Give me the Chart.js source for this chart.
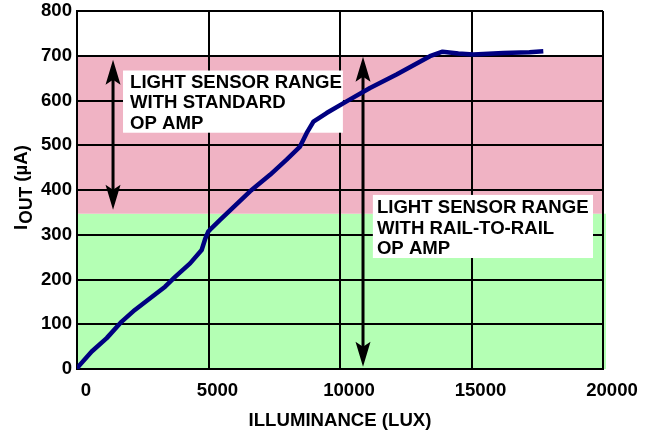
<!DOCTYPE html>
<html>
<head>
<meta charset="utf-8">
<script src="https://cdn.jsdelivr.net/npm/chart.js@4.4.1/dist/chart.umd.min.js"></script>
<style>
  html, body { margin: 0; padding: 0; background: #fff; }
  #wrap { width: 655px; height: 434px; position: relative; }
</style>
</head>
<body>
<div id="wrap"><canvas id="plot"></canvas></div>
<script>
// Curve (lux -> µA)
const illuminance = [0, 60, 560, 1130, 1700, 2200, 2780, 3350, 3730, 4300, 4740, 4870, 4990,
  5120, 5440, 6580, 7340, 7970, 8480, 8730, 8990, 9490, 10250, 11140, 12150, 13420, 13900,
  14500, 15070, 16210, 17200, 17730];
const ioutUA = [0, 6, 39, 69, 106, 132, 158, 184, 206, 236, 266, 290, 307,
  315, 333, 397, 434, 468, 497, 527, 553, 572, 598, 628, 658, 699, 709,
  705, 703, 706, 708, 710];

const xTicks = [0, 5000, 10000, 15000, 20000];
const yTicks = [0, 100, 200, 300, 400, 500, 600, 700, 800];

// shaded ranges (µA)
const railRange = [0, 347];
const standardRange = [347, 700];

const FONT = '"Liberation Sans", Arial, sans-serif';
const FSIZE = 18.6;
const PINK = '#F0B3C4';
const GREEN = '#B4FFB4';

// annotation boxes in data units
const notes = [
  {x0: 1750, x1: 10110, y0: 667, y1: 528, dx: 7, dy: 17,
   lines: ['LIGHT SENSOR RANGE', 'WITH STANDARD', 'OP AMP']},
  {x0: 11250, x1: 19620, y0: 389, y1: 248, dx: 4, dy: 18,
   lines: ['LIGHT SENSOR RANGE', 'WITH RAIL-TO-RAIL', 'OP AMP']}
];
const arrows = [
  {x: 1370, top: 691, bottom: 356},
  {x: 10875, top: 698, bottom: 5}
];

const ctx = document.getElementById('plot').getContext('2d');

const bands = {
    id: 'bands',
    beforeDraw: chart => {
        const {ctx, chartArea: a, scales: {y}} = chart;
        ctx.save();
        ctx.fillStyle = GREEN;
        ctx.fillRect(a.left, y.getPixelForValue(railRange[1]), a.right - a.left + 3,
            y.getPixelForValue(railRange[0]) - y.getPixelForValue(railRange[1]));
        ctx.fillStyle = PINK;
        ctx.fillRect(a.left, y.getPixelForValue(standardRange[1]), a.right - a.left,
            y.getPixelForValue(standardRange[0]) - y.getPixelForValue(standardRange[1]));
        ctx.restore();
    }
};

function arrowHead(ctx, x, tipY, dir) {
    // dir = 1 points up, -1 points down
    const len = 25, half = 7.5;
    ctx.beginPath();
    ctx.moveTo(x, tipY);
    ctx.lineTo(x - half, tipY + dir * len);
    ctx.lineTo(x, tipY + dir * (len - 5));
    ctx.lineTo(x + half, tipY + dir * len);
    ctx.closePath();
    ctx.fill();
}

const annotations = {
    id: 'annotations',
    beforeDatasetsDraw: chart => {
        const {ctx, scales: {x, y}} = chart;
        ctx.save();
        notes.forEach(n => {
            const left = x.getPixelForValue(n.x0), top = y.getPixelForValue(n.y0);
            const right = x.getPixelForValue(n.x1), bottom = y.getPixelForValue(n.y1);
            ctx.fillStyle = '#fff';
            ctx.fillRect(left, top, right - left, bottom - top);
            ctx.fillStyle = '#000';
            ctx.font = `bold ${FSIZE}px ${FONT}`;
            ctx.textBaseline = 'alphabetic';
            ctx.textAlign = 'left';
            n.lines.forEach((t, i) => ctx.fillText(t, left + n.dx, top + n.dy + i * 20.7));
        });
        ctx.strokeStyle = '#000';
        ctx.fillStyle = '#000';
        ctx.lineWidth = 3;
        arrows.forEach(a => {
            const px = x.getPixelForValue(a.x);
            const t = y.getPixelForValue(a.top), b = y.getPixelForValue(a.bottom);
            ctx.beginPath();
            ctx.moveTo(px, t + 10);
            ctx.lineTo(px, b - 10);
            ctx.stroke();
            arrowHead(ctx, px, t, 1);
            arrowHead(ctx, px, b, -1);
        });
        ctx.restore();
    }
};

// y title with subscript, drawn by hand
const yTitle = {
    id: 'yTitle',
    afterDraw: chart => {
        const {ctx, chartArea: a} = chart;
        ctx.save();
        ctx.fillStyle = '#000';
        ctx.textBaseline = 'alphabetic';
        ctx.textAlign = 'left';
        const big = `bold ${FSIZE}px ${FONT}`, sub = `bold 17.5px ${FONT}`;
        ctx.font = big;
        const wI = ctx.measureText('I').width;
        const wRest = ctx.measureText(' (µA)').width;
        ctx.font = sub;
        const wSub = ctx.measureText('OUT').width;
        const total = wI + wSub + wRest;
        ctx.translate(27, (a.top + a.bottom) / 2 + total / 2 - 2);
        ctx.rotate(-Math.PI / 2);
        ctx.font = big;
        ctx.fillText('I', 0, 0);
        ctx.font = sub;
        ctx.fillText('OUT', wI + 1, 5);
        ctx.font = big;
        ctx.fillText(' (µA)', wI + 1 + wSub, 0);
        ctx.restore();
    }
};

new Chart(ctx, {
    type: 'line',
    data: {
        datasets: [{
            data: illuminance.map((v, i) => ({x: v, y: ioutUA[i]})),
            borderColor: '#000080',
            borderWidth: 4.5,
            pointRadius: 0,
            tension: 0,
            fill: false,
            borderCapStyle: 'butt',
            borderJoinStyle: 'round'
        }]
    },
    options: {
        responsive: true,
        maintainAspectRatio: false,
        animation: false,
        layout: {padding: {top: 11, right: 52, left: 0, bottom: 0}},
        scales: {
            x: {
                type: 'linear',
                min: xTicks[0],
                max: xTicks[xTicks.length - 1],
                afterBuildTicks: s => { s.ticks = xTicks.map(v => ({value: v})); },
                afterFit: s => { s.height = 65; s.paddingLeft = 0; s.paddingRight = 0; },
                ticks: {
                    color: '#000',
                    font: {family: FONT, size: FSIZE, weight: 'bold'},
                    padding: 11,
                    labelOffset: 9,
                    maxRotation: 0,
                    callback: v => String(v)
                },
                grid: {color: '#000', lineWidth: 2, drawTicks: false},
                border: {color: '#000', width: 2},
                title: {
                    display: true,
                    text: 'ILLUMINANCE (LUX)',
                    color: '#000',
                    font: {family: FONT, size: FSIZE, weight: 'bold'},
                    padding: {top: 0, bottom: 2}
                }
            },
            y: {
                min: yTicks[0],
                max: yTicks[yTicks.length - 1],
                afterBuildTicks: s => { s.ticks = yTicks.map(v => ({value: v})); },
                afterFit: s => { s.width = 77; s.paddingTop = 0; s.paddingBottom = 0; },
                ticks: {
                    color: '#000',
                    font: {family: FONT, size: FSIZE, weight: 'bold'},
                    padding: 5,
                    callback: v => String(v)
                },
                grid: {color: '#000', lineWidth: 2, drawTicks: false},
                border: {color: '#000', width: 2}
            }
        },
        plugins: {
            legend: {display: false},
            tooltip: {enabled: false}
        }
    },
    plugins: [bands, annotations, yTitle]
});
</script>
</body>
</html>
